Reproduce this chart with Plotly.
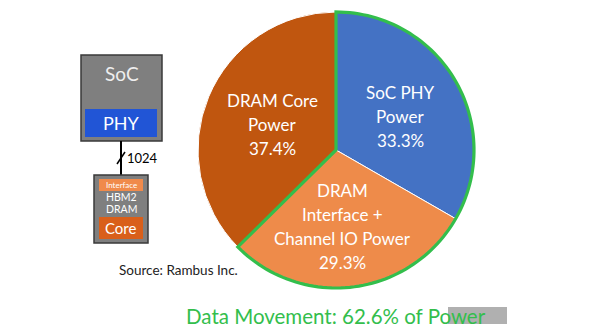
import numpy as np
import plotly.graph_objects as go

# ---- data ----
labels = ["SoC PHY Power", "DRAM Interface + Channel IO Power", "DRAM Core Power"]
values = [33.3, 29.3, 37.4]
label_lines = [["SoC PHY", "Power"], ["DRAM", "Interface +", "Channel IO Power"], ["DRAM Core", "Power"]]
data_movement_slices = [0, 1]
footer = "Data Movement: 62.6% of Power"
source = "Source: Rambus Inc."
bus_width = "1024"

# ---- style / layout ----
W, H = 600, 333
cx, cy, R = 336, 150, 138
colors = ["#4472C4", "#EE8B4A", "#C0560F"]
green = "#33BE4C"
FONT = "Lato"
text_pos = [(400, 92), (342, 190), (272, 100)]
line_gap = 24

fig = go.Figure()
fig.add_trace(go.Pie(
    labels=labels, values=values, sort=False, direction="clockwise", rotation=0,
    marker=dict(colors=colors, line=dict(color="white", width=1)),
    textinfo="none", hoverinfo="label+percent", showlegend=False,
    domain=dict(x=[(cx - R) / W, (cx + R) / W], y=[1 - (cy + R) / H, 1 - (cy - R) / H]),
))
# invisible scatter to establish pixel axes
fig.add_trace(go.Scatter(x=[0, W], y=[0, H], mode="markers", marker=dict(opacity=0), showlegend=False, hoverinfo="skip"))

# green outline around data-movement slices
tot = sum(values)
start = sum(values[:data_movement_slices[0]]) / tot * 360
end = sum(values[:data_movement_slices[-1] + 1]) / tot * 360
th = np.radians(np.linspace(start, end, 120))
px = cx + R * np.sin(th)
py = cy - R * np.cos(th)
path = f"M {cx} {cy} " + " ".join(f"L {a:.2f} {b:.2f}" for a, b in zip(px, py)) + " Z"
shapes = [dict(type="path", path=path, xref="x", yref="y", line=dict(color=green, width=3.2), fillcolor="rgba(0,0,0,0)", layer="above")]

# left diagram
shapes += [
    dict(type="rect", x0=81, y0=55, x1=162, y1=141, fillcolor="#7F7F7F", line=dict(color="#3A3A3A", width=1.5), xref="x", yref="y"),
    dict(type="rect", x0=85, y0=109, x1=157, y1=137, fillcolor="#2155D6", line=dict(width=0), xref="x", yref="y"),
    dict(type="line", x0=121, y0=141, x1=121, y1=175, line=dict(color="black", width=2), xref="x", yref="y"),
    dict(type="line", x0=117, y0=164, x1=125, y1=152, line=dict(color="black", width=1.5), xref="x", yref="y"),
    dict(type="rect", x0=94, y0=175, x1=148, y1=243, fillcolor="#7F7F7F", line=dict(color="#3A3A3A", width=1.5), xref="x", yref="y"),
    dict(type="rect", x0=99, y0=179, x1=143, y1=191, fillcolor="#F08A4B", line=dict(width=0), xref="x", yref="y"),
    dict(type="rect", x0=99, y0=217, x1=143, y1=239, fillcolor="#D95F1A", line=dict(width=0), xref="x", yref="y"),
    dict(type="rect", x0=448, y0=307, x1=507, y1=324, fillcolor="rgba(150,150,150,0.75)", line=dict(width=0), xref="x", yref="y"),
]

ann = []
for i, lines in enumerate(label_lines):
    x0, y0 = text_pos[i]
    for j, t in enumerate(lines + [f"{values[i]}%"]):
        ann.append(dict(x=x0, y=y0 + j * line_gap, text=t, showarrow=False, xref="x", yref="y",
                        font=dict(family=FONT, size=17, color="white"), xanchor="center", yanchor="middle"))

def txt(x, y, t, size, color, anchor="center"):
    ann.append(dict(x=x, y=y, text=t, showarrow=False, xref="x", yref="y",
                    font=dict(family=FONT, size=size, color=color), xanchor=anchor, yanchor="middle"))

txt(122, 73, "SoC", 19, "#EEEEEE")
txt(121, 123, "PHY", 18, "white")
txt(125, 158, bus_width, 13, "black", "left")
txt(121, 185, "Interface", 8, "white")
txt(121, 197, "HBM2", 10.5, "white")
txt(121, 209, "DRAM", 10.5, "white")
txt(121, 228, "Core", 15, "white")
txt(117, 270, source, 13.5, "#222222", "left")
txt(336, 316, footer, 20.5, green)

fig.update_layout(
    width=W, height=H, margin=dict(l=0, r=0, t=0, b=0),
    paper_bgcolor="white", plot_bgcolor="white",
    xaxis=dict(range=[0, W], visible=False, fixedrange=True, domain=[0, 1]),
    yaxis=dict(range=[H, 0], visible=False, fixedrange=True, domain=[0, 1]),
    shapes=shapes, annotations=ann, showlegend=False,
)
fig.write_html("out.html")
